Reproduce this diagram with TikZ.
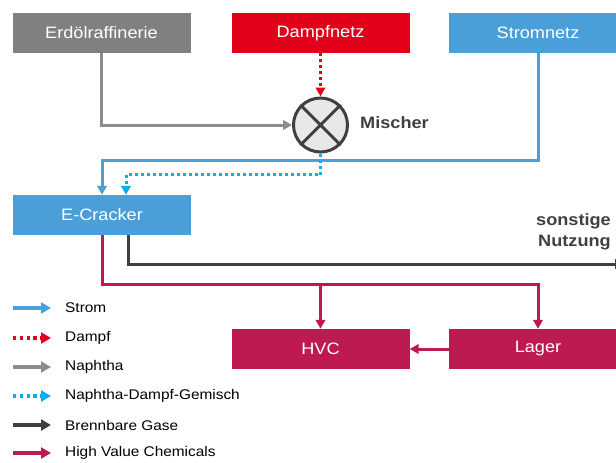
\documentclass[tikz,border=0pt]{standalone}
\usepackage{fontspec}
\setmainfont{Liberation Sans}[FakeStretch=1.1]
\usetikzlibrary{arrows.meta}
\definecolor{cgray}{HTML}{808080}
\definecolor{cgrayline}{HTML}{8C8C8C}
\definecolor{cred}{HTML}{E2001A}
\definecolor{cblue}{HTML}{4A9FD8}
\definecolor{ccyan}{HTML}{00B0F0}
\definecolor{cdark}{HTML}{404040}
\definecolor{cmag}{HTML}{BE1A52}
\definecolor{cmixfill}{HTML}{E8E8E8}
\begin{document}
\begin{tikzpicture}[x=1pt,y=-1pt,
  box/.style={minimum width=178pt, minimum height=40pt, inner sep=0pt,
    text=white, font=\fontsize{16.5}{19}\selectfont},
  flow/.style={line width=3pt, -{Triangle[length=9pt,width=9.5pt]}},
  dotflow/.style={flow, dash pattern=on 3pt off 3pt},
  keyarrow/.style={line width=3.6pt, -{Triangle[length=10pt,width=11pt]}},
  keysolid/.style={},
  keydots/.style={dash pattern=on 3.4pt off 3.4pt},
  keylabel/.style={anchor=west, inner sep=0pt, font=\fontsize{14}{16}\selectfont},
  boldlabel/.style={text=cdark, font=\bfseries\fontsize{16.5}{21}\selectfont}]
\useasboundingbox (0,0) rectangle (616,463);
\clip (0,0) rectangle (616,463);

% sources
\node[box, fill=cgray] (erd) at (101.5,33) {Erdölraffinerie};
\node[box, fill=cred] (damp) at (320.5,33) {Dampfnetz};
\node[box, fill=cblue] (strom) at (538,33) {Stromnetz};

% mixer
\node[circle, draw=cdark, fill=cmixfill, line width=3pt,
  minimum size=54pt, inner sep=0pt] (mix) at (320.5,125) {};
\draw[cdark, line width=3pt] (mix.45) -- (mix.225) (mix.135) -- (mix.315);
\node[boldlabel, anchor=west, inner sep=0pt] (mixlbl) at (360,123) {Mischer};

% cracker and products
\node[box, fill=cblue] (ecr) at (102,215) {E-Cracker};
\node[box, fill=cmag] (hvc) at (320.5,349) {HVC};
\node[box, fill=cmag] (lager) at (538,349) {Lager};
\node[boldlabel, align=right, anchor=east, inner sep=0pt] (sonst) at (611,232)
  {sonstige\\Nutzung};
\coordinate (gasout) at (624,264);

% feeds into the mixer
\draw[flow, cgrayline] (erd.south) |- (mix.west);
\draw[dotflow, cred] (damp.south) -- (mix.north);

% feeds into the cracker
\draw[flow, cblue] (strom.south) -- ++(0,107) -| (ecr.north);
\draw[dotflow, ccyan] (mix.south) -- ++(0,21) -| ([xshift=24pt]ecr.north);

% cracker outputs
\draw[flow, cdark] ([xshift=26pt]ecr.south) |- (gasout);
\draw[flow, cmag] (ecr.south) -- ++(0,49) coordinate (split) -| (lager.north);
\draw[flow, cmag] (hvc.north |- split) -- (hvc.north);
\draw[flow, cmag] (lager.west) -- (hvc.east);

% legend
\foreach \y/\col/\pat/\txt/\nm in {
    308/cblue/keysolid/Strom/ka,
    338/cred/keydots/Dampf/kb,
    367/cgrayline/keysolid/Naphtha/kc,
    396/ccyan/keydots/Naphtha-Dampf-Gemisch/kd,
    425/cdark/keysolid/Brennbare Gase/ke,
    453/cmag/keysolid/High Value Chemicals/kf}{
  \coordinate (\nm s) at (13,\y);
  \coordinate (\nm e) at (51,\y);
  \draw[keyarrow, \col, \pat] (\nm s) -- (\nm e);
  \node[keylabel] (\nm l) at (65,\y) {\txt};
}
\end{tikzpicture}
\end{document}
